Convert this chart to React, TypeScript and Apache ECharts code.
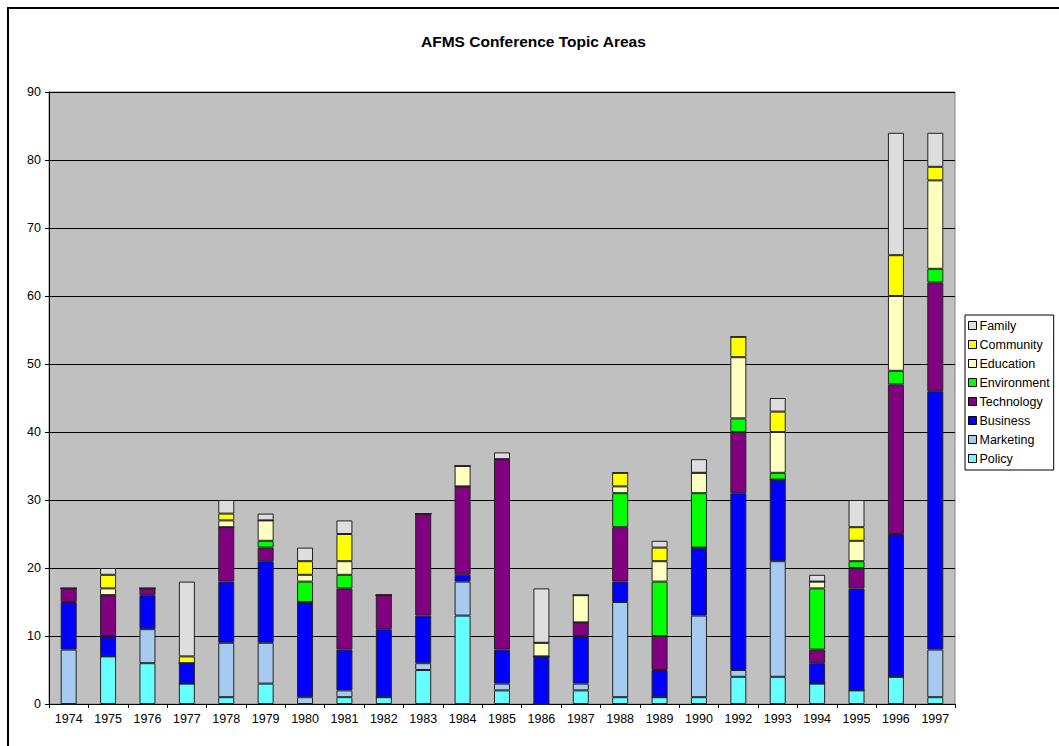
import React, { useEffect, useRef } from "react";
import * as echarts from "echarts";

const years = ["1974","1975","1976","1977","1978","1979","1980","1981","1982","1983","1984","1985","1986","1987","1988","1989","1990","1992","1993","1994","1995","1996","1997"];

const policy      = [0, 7, 6, 3, 1, 3, 0, 1, 1, 5, 13, 2, 0, 2, 1, 1, 1, 4, 4, 3, 2, 4, 1];
const marketing   = [8, 0, 5, 0, 8, 6, 1, 1, 0, 1, 5, 1, 0, 1, 14, 0, 12, 1, 17, 0, 0, 0, 7];
const business    = [7, 3, 5, 3, 9, 12, 14, 6, 10, 7, 1, 5, 7, 7, 3, 4, 10, 26, 12, 3, 15, 21, 38];
const technology  = [2, 6, 1, 0, 8, 2, 0, 9, 5, 15, 13, 28, 0, 2, 8, 5, 0, 9, 0, 2, 3, 22, 16];
const environment = [0, 0, 0, 0, 0, 1, 3, 2, 0, 0, 0, 0, 0, 0, 5, 8, 8, 2, 1, 9, 1, 2, 2];
const education   = [0, 1, 0, 0, 1, 3, 1, 2, 0, 0, 3, 0, 2, 4, 1, 3, 3, 9, 6, 1, 3, 11, 13];
const community   = [0, 2, 0, 1, 1, 0, 2, 4, 0, 0, 0, 0, 0, 0, 2, 2, 0, 3, 3, 0, 2, 6, 2];
const family      = [0, 1, 0, 11, 2, 1, 2, 2, 0, 0, 0, 1, 8, 0, 0, 1, 2, 0, 2, 1, 4, 18, 5];

const seriesDefs = [
  { name: "Policy", data: policy, color: "#66FFFF" },
  { name: "Marketing", data: marketing, color: "#A6CAF0" },
  { name: "Business", data: business, color: "#0000FF" },
  { name: "Technology", data: technology, color: "#800080" },
  { name: "Environment", data: environment, color: "#00FF00" },
  { name: "Education", data: education, color: "#FFFFC0" },
  { name: "Community", data: community, color: "#FFFF00" },
  { name: "Family", data: family, color: "#DEDEDE" },
];

const legendOrder = ["Family", "Community", "Education", "Environment", "Technology", "Business", "Marketing", "Policy"];

export default function App() {
  const ref = useRef<HTMLDivElement>(null);
  useEffect(() => {
    if (!ref.current) return;
    const chart = echarts.init(ref.current, undefined, { renderer: "svg" });
    const font = "Arial, 'Liberation Sans', sans-serif";
    chart.setOption({
      animation: false,
      backgroundColor: "#FFFFFF",
      title: {
        text: "AFMS Conference Topic Areas",
        left: 421,
        top: 33,
        padding: 0,
        textStyle: { fontFamily: font, fontSize: 15.5, fontWeight: "bold", color: "#000" },
      },
      graphic: [
        {
          type: "polyline",
          shape: { points: [[8, 746], [8, 8], [1059, 8]] },
          style: { stroke: "#000", lineWidth: 2, fill: "none" },
          silent: true,
        },
      ],
      legend: {
        orient: "vertical",
        left: 965,
        top: 315,
        data: legendOrder,
        itemWidth: 8,
        itemHeight: 8,
        itemGap: 6,
        icon: "rect",
        padding: [4, 4, 5, 3],
        backgroundColor: "#FFFFFF",
        borderColor: "#000",
        borderWidth: 1,
        borderRadius: 0,
        textStyle: { fontFamily: font, fontSize: 12.5, color: "#000", padding: [0, 0, 0, -2] },
        itemStyle: { borderColor: "#000", borderWidth: 1 },
      },
      grid: {
        left: 49,
        right: 104,
        top: 92,
        bottom: 42,
        show: true,
        backgroundColor: "#C0C0C0",
        borderColor: "#808080",
        borderWidth: 1,
      },
      xAxis: {
        type: "category",
        data: years,
        axisLine: { lineStyle: { color: "#000", width: 1 } },
        axisTick: { show: true, lineStyle: { color: "#000" }, length: 4 },
        axisLabel: { fontFamily: font, fontSize: 12.5, color: "#000", margin: 8, interval: 0 },
      },
      yAxis: {
        type: "value",
        min: 0,
        max: 90,
        interval: 10,
        axisLine: { show: true, lineStyle: { color: "#000", width: 1 } },
        axisTick: { show: true, lineStyle: { color: "#000" }, length: 4 },
        axisLabel: { fontFamily: font, fontSize: 12.5, color: "#000", margin: 8 },
        splitLine: { show: true, lineStyle: { color: "#000", width: 1 } },
      },
      series: seriesDefs.map((s) => ({
        name: s.name,
        type: "bar",
        stack: "total",
        data: s.data,
        barWidth: 16,
        itemStyle: { color: s.color, borderColor: "#222", borderWidth: 1 },
        emphasis: { disabled: true },
      })),
    });
    return () => chart.dispose();
  }, []);
  return (
    <div
      ref={ref}
      style={{ position: "absolute", left: 0, top: 0, width: 1059, height: 746 }}
    />
  );
}
